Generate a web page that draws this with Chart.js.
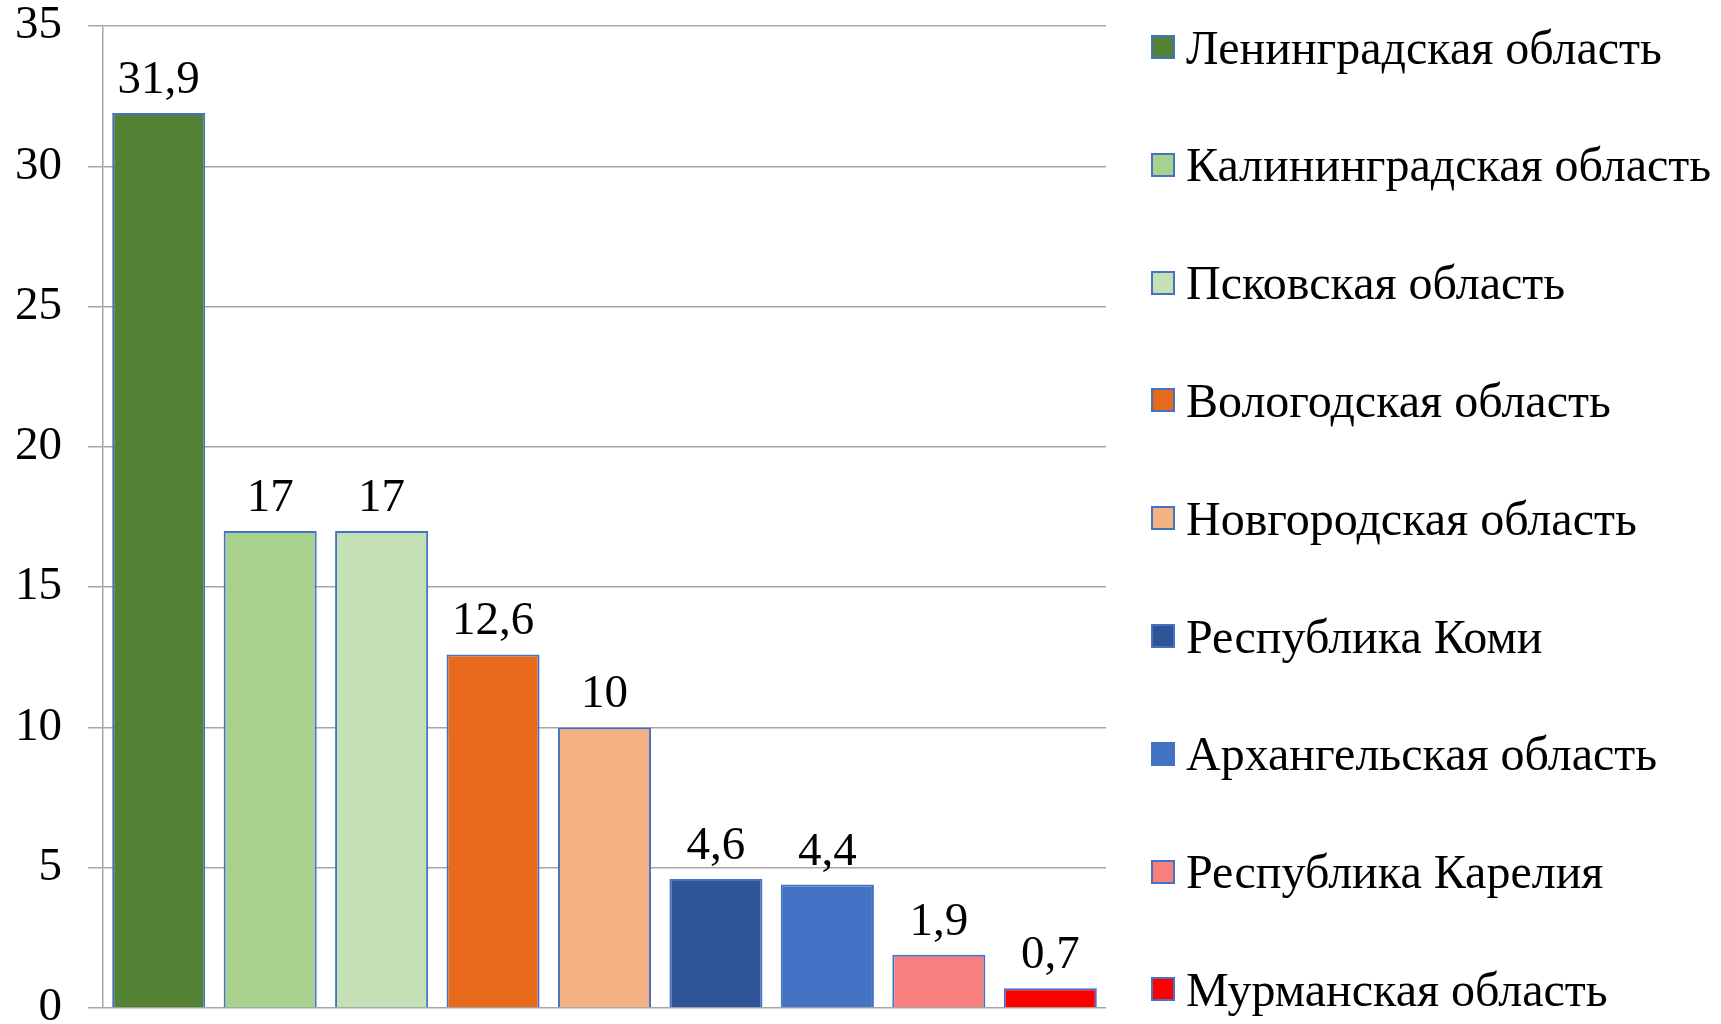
<!DOCTYPE html>
<html>
<head>
<meta charset="utf-8">
<script src="https://cdn.jsdelivr.net/npm/chart.js@4.4.1/dist/chart.umd.min.js"></script>
<style>
  html, body { margin: 0; padding: 0; background: #fff; }
  #wrap { position: relative; width: 1721px; height: 1024px; }
  #chart { position: absolute; left: 0; top: 0; }
  #legend { position: absolute; left: 1151px; top: 0; font-family: "Liberation Serif", "Times New Roman", serif; font-size: 48px; color: #000; }
  .item { position: absolute; left: 0; white-space: nowrap; display: flex; align-items: center; height: 60px; }
  .box { width: 20px; height: 20px; border: 2px solid #4472c4; margin-right: 11px; }
</style>
</head>
<body>
<div id="wrap">
  <canvas id="chart" width="1721" height="1024"></canvas>
  <div id="legend"></div>
</div>
<script>
const regions = ["Ленинградская область", "Калининградская область", "Псковская область", "Вологодская область",
  "Новгородская область", "Республика Коми", "Архангельская область", "Республика Карелия", "Мурманская область"];
const values = [31.9, 17, 17, 12.6, 10, 4.6, 4.4, 1.9, 0.7];
const colors = ["#548235", "#a9d18e", "#c5e0b4", "#e9691a", "#f4b183", "#2f5597", "#4472c4", "#f8807f", "#ff0000"];
const yTicks = [0, 5, 10, 15, 20, 25, 30, 35];

const serif = "'Liberation Serif', 'Times New Roman', serif";

// подписи над столбцами
const barLabels = {
  id: "barLabels",
  afterDatasetsDraw(chart) {
    const ctx = chart.ctx;
    const meta = chart.getDatasetMeta(0);
    ctx.save();
    ctx.font = "47px " + serif;
    ctx.fillStyle = "#000";
    ctx.textAlign = "center";
    ctx.textBaseline = "alphabetic";
    meta.data.forEach(function (bar, i) {
      ctx.fillText(String(values[i]).replace(".", ","), bar.x, bar.y - 20);
    });
    ctx.restore();
  }
};

new Chart(document.getElementById("chart").getContext("2d"), {
  type: "bar",
  data: {
    labels: regions,
    datasets: [{
      data: values,
      backgroundColor: colors,
      borderColor: "#4472c4",
      borderWidth: 2,
      barPercentage: 0.835,
      categoryPercentage: 1
    }]
  },
  options: {
    responsive: false,
    animation: false,
    layout: { padding: { top: 26, bottom: 16, left: 0, right: 615 } },
    plugins: { legend: { display: false }, tooltip: { enabled: false } },
    scales: {
      x: { display: false, grid: { display: false } },
      y: {
        min: 0,
        max: 35,
        afterFit: function (scale) {
          scale.width = 103;
          scale.paddingTop = 0;
          scale.paddingBottom = 0;
        },
        afterBuildTicks: function (scale) { scale.ticks = yTicks.map(v => ({ value: v })); },
        border: { display: true, color: "#a6a6a6", width: 1.5 },
        grid: { color: "#a6a6a6", lineWidth: 1.5, tickLength: 15, drawTicks: true },
        ticks: { color: "#000", padding: 26, font: { family: serif, size: 47, lineHeight: 1 } }
      }
    }
  },
  plugins: [barLabels]
});

const legend = document.getElementById("legend");
regions.forEach(function (name, i) {
  const item = document.createElement("div");
  item.className = "item";
  item.style.top = (47 + i * 117.8 - 30) + "px";
  const box = document.createElement("span");
  box.className = "box";
  box.style.background = colors[i];
  const txt = document.createElement("span");
  txt.textContent = name;
  item.appendChild(box);
  item.appendChild(txt);
  legend.appendChild(item);
});
</script>
</body>
</html>
